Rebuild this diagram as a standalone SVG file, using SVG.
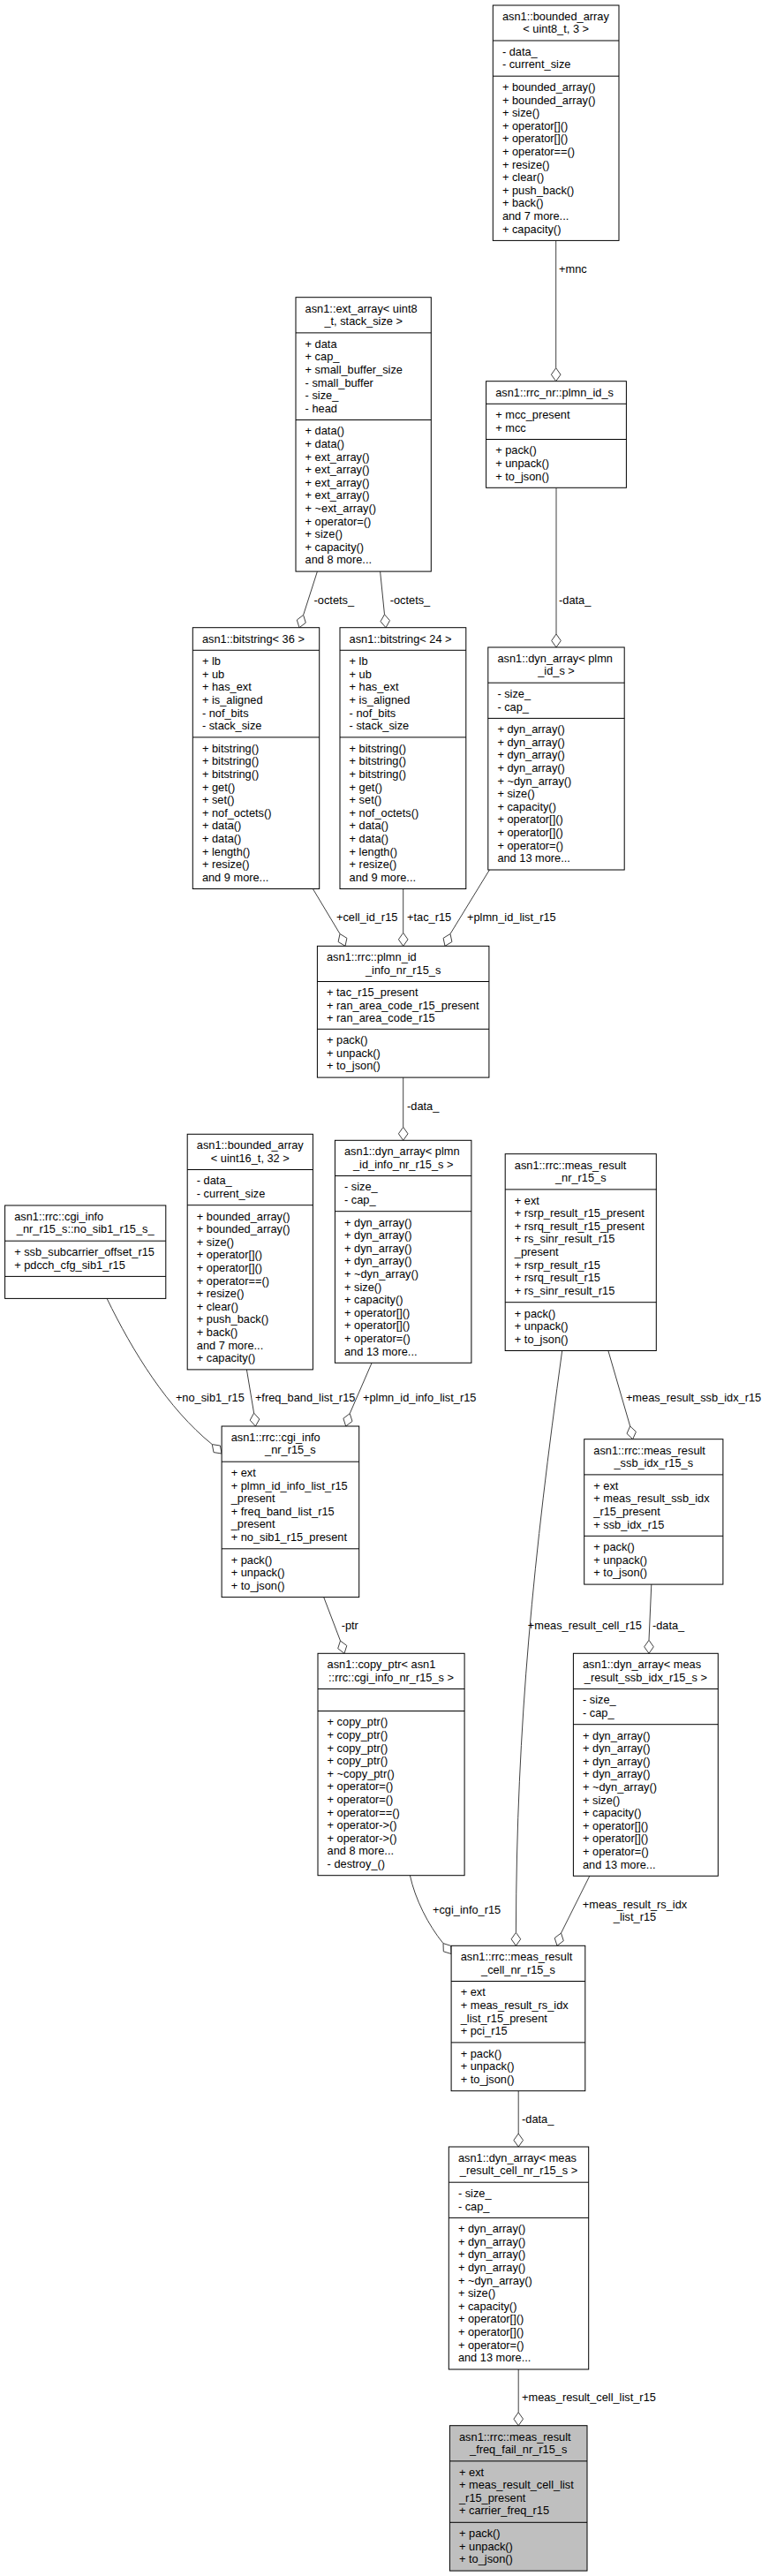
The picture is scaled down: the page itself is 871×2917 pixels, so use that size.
<svg xmlns="http://www.w3.org/2000/svg" width="871" height="2917" viewBox="0 0 871 2917">
<style>
rect.b{fill:#fff;stroke:#000;stroke-width:1}
rect.g{fill:#bfbfbf;stroke:#000;stroke-width:1}
line.s{stroke:#000;stroke-width:1}
text{font-family:"Liberation Sans",Arial,Helvetica,sans-serif;font-size:12.8px;fill:#000}
.c{text-anchor:middle}
.e{fill:none;stroke:#404040;stroke-width:1}
.d{fill:#fff;stroke:#404040;stroke-width:1}
</style>
<rect width="871" height="2917" fill="#fff"/>
<g id="connectors">
<path class="e" d="M629.7,272.4 L629.7,416.7"/><polygon class="d" points="629.7,416.7 635,424.2 629.7,431.7 624.4,424.2"/>
<path class="e" d="M630,552.3 L630,718"/><polygon class="d" points="630,718 635.3,725.5 630,733 624.7,725.5"/>
<path class="e" d="M359.4,647.1 L343.6,696.4"/><polygon class="d" points="343.6,696.4 346.3,705.2 339,710.7 336.3,702"/>
<path class="e" d="M430.6,647.1 L435.5,695.8"/><polygon class="d" points="435.5,695.8 441.5,702.7 437,710.7 431,703.7"/>
<path class="e" d="M354.4,1006.5 L385,1057.5"/><polygon class="d" points="385,1057.5 392.9,1062.3 391,1071.3 383.1,1066.5"/>
<path class="e" d="M456.7,1006.5 L456.7,1056.3"/><polygon class="d" points="456.7,1056.3 462,1063.8 456.7,1071.3 451.4,1063.8"/>
<path class="e" d="M554.4,985 L510,1057.5"/><polygon class="d" points="510,1057.5 511.9,1066.5 504,1071.3 502.1,1062.3"/>
<path class="e" d="M456.7,1220.1 L456.7,1276.3"/><polygon class="d" points="456.7,1276.3 462,1283.8 456.7,1291.3 451.4,1283.8"/>
<path class="e" d="M121.1,1470.4 C150,1530 190,1595 240.3,1635.6"/><polygon class="d" points="240.3,1635.6 249.4,1637 251.1,1646 242,1644.6"/>
<path class="e" d="M279.4,1550.9 L287.6,1600.1"/><polygon class="d" points="287.6,1600.1 293.8,1607 289.4,1615 283.2,1608.2"/>
<path class="e" d="M421.1,1543.3 L396.2,1600.7"/><polygon class="d" points="396.2,1600.7 399,1609.4 391.7,1615 388.9,1606.2"/>
<path class="e" d="M366.7,1808.6 L385.5,1858"/><polygon class="d" points="385.5,1858 392.8,1863.5 390,1872.3 382.7,1866.7"/>
<path class="e" d="M688.9,1529.5 L713.7,1615"/><polygon class="d" points="713.7,1615 720.4,1621.3 716.7,1629.7 710,1623.4"/>
<path class="e" d="M737.8,1794.1 L735,1857.3"/><polygon class="d" points="735,1857.3 740.3,1864.8 735,1872.3 729.7,1864.8"/>
<path class="e" d="M636.7,1529.5 C605,1760 585,1950 584.4,2188.3"/><polygon class="d" points="584.4,2188.3 589.7,2195.8 584.4,2203.3 579.1,2195.8"/>
<path class="e" d="M464.4,2123.7 C470,2150 485,2180 502,2200.6"/><polygon class="d" points="502,2200.6 510.7,2203.4 511.1,2212.5 502.3,2209.8"/>
<path class="e" d="M667.8,2124.3 L635.5,2189"/><polygon class="d" points="635.5,2189 638.3,2197.7 631,2203.3 628.2,2194.5"/>
<path class="e" d="M587.2,2367.7 L587.2,2416"/><polygon class="d" points="587.2,2416 592.5,2423.5 587.2,2431 581.9,2423.5"/>
<path class="e" d="M587.2,2683 L587.2,2731.7"/><polygon class="d" points="587.2,2731.7 592.5,2739.2 587.2,2746.7 581.9,2739.2"/>
<text x="633" y="308.5">+mnc</text>
<text x="633" y="683.5">-data_</text>
<text x="355.6" y="683.5">-octets_</text>
<text x="441.7" y="683.5">-octets_</text>
<text x="381" y="1043.2">+cell_id_r15</text>
<text x="461" y="1043.2">+tac_r15</text>
<text x="529" y="1043.2">+plmn_id_list_r15</text>
<text x="461" y="1256.8">-data_</text>
<text x="198.9" y="1586.8">+no_sib1_r15</text>
<text x="288.9" y="1586.8">+freq_band_list_r15</text>
<text x="411" y="1586.8">+plmn_id_info_list_r15</text>
<text x="708.9" y="1586.8">+meas_result_ssb_idx_r15</text>
<text x="386.7" y="1844.8">-ptr</text>
<text x="597.8" y="1844.8">+meas_result_cell_r15</text>
<text x="738.9" y="1844.8">-data_</text>
<text x="490" y="2167.2">+cgi_info_r15</text>
<text x="719" y="2160.5" class="c">+meas_result_rs_idx</text>
<text x="719" y="2175.2" class="c">_list_r15</text>
<text x="591" y="2403.5">-data_</text>
<text x="591" y="2719.2">+meas_result_cell_list_r15</text>
</g>

<g id="bounded_array_uint8_3">
<rect class="b" x="558.3" y="6" width="142.7" height="266.4"/>
<line class="s" x1="558.3" y1="46" x2="701" y2="46"/><line class="s" x1="558.3" y1="86.2" x2="701" y2="86.2"/>
<text x="568.9" y="22.8">asn1::bounded_array</text>
<text x="629.7" y="37.4" class="c">&lt; uint8_t, 3 &gt;</text>
<text x="568.9" y="62.8">- data_<tspan x="568.9" dy="14.6">- current_size</tspan></text>
<text x="568.9" y="103">+ bounded_array()<tspan x="568.9" dy="14.6">+ bounded_array()</tspan><tspan x="568.9" dy="14.6">+ size()</tspan><tspan x="568.9" dy="14.6">+ operator[]()</tspan><tspan x="568.9" dy="14.6">+ operator[]()</tspan><tspan x="568.9" dy="14.6">+ operator==()</tspan><tspan x="568.9" dy="14.6">+ resize()</tspan><tspan x="568.9" dy="14.6">+ clear()</tspan><tspan x="568.9" dy="14.6">+ push_back()</tspan><tspan x="568.9" dy="14.6">+ back()</tspan><tspan x="568.9" dy="14.6">and 7 more...</tspan><tspan x="568.9" dy="14.6">+ capacity()</tspan></text>
</g>

<g id="ext_array">
<rect class="b" x="335" y="336.7" width="153.3" height="310.4"/>
<line class="s" x1="335" y1="376.9" x2="488.3" y2="376.9"/><line class="s" x1="335" y1="475.5" x2="488.3" y2="475.5"/>
<text x="345.6" y="353.5">asn1::ext_array&lt; uint8</text>
<text x="411.7" y="368.1" class="c">_t, stack_size &gt;</text>
<text x="345.6" y="393.7">+ data<tspan x="345.6" dy="14.6">+ cap_</tspan><tspan x="345.6" dy="14.6">+ small_buffer_size</tspan><tspan x="345.6" dy="14.6">- small_buffer</tspan><tspan x="345.6" dy="14.6">- size_</tspan><tspan x="345.6" dy="14.6">- head</tspan></text>
<text x="345.6" y="492.3">+ data()<tspan x="345.6" dy="14.6">+ data()</tspan><tspan x="345.6" dy="14.6">+ ext_array()</tspan><tspan x="345.6" dy="14.6">+ ext_array()</tspan><tspan x="345.6" dy="14.6">+ ext_array()</tspan><tspan x="345.6" dy="14.6">+ ext_array()</tspan><tspan x="345.6" dy="14.6">+ ~ext_array()</tspan><tspan x="345.6" dy="14.6">+ operator=()</tspan><tspan x="345.6" dy="14.6">+ size()</tspan><tspan x="345.6" dy="14.6">+ capacity()</tspan><tspan x="345.6" dy="14.6">and 8 more...</tspan></text>
</g>

<g id="plmn_id_s">
<rect class="b" x="550.6" y="431.7" width="158.8" height="120.6"/>
<line class="s" x1="550.6" y1="457.3" x2="709.4" y2="457.3"/><line class="s" x1="550.6" y1="497.5" x2="709.4" y2="497.5"/>
<text x="561.2" y="448.5">asn1::rrc_nr::plmn_id_s</text>
<text x="561.2" y="474.1">+ mcc_present<tspan x="561.2" dy="14.6">+ mcc</tspan></text>
<text x="561.2" y="514.3">+ pack()<tspan x="561.2" dy="14.6">+ unpack()</tspan><tspan x="561.2" dy="14.6">+ to_json()</tspan></text>
</g>

<g id="bitstring_36">
<rect class="b" x="218.3" y="710.7" width="143.4" height="295.8"/>
<line class="s" x1="218.3" y1="736.3" x2="361.7" y2="736.3"/><line class="s" x1="218.3" y1="834.9" x2="361.7" y2="834.9"/>
<text x="228.9" y="727.5">asn1::bitstring&lt; 36 &gt;</text>
<text x="228.9" y="753.1">+ lb<tspan x="228.9" dy="14.6">+ ub</tspan><tspan x="228.9" dy="14.6">+ has_ext</tspan><tspan x="228.9" dy="14.6">+ is_aligned</tspan><tspan x="228.9" dy="14.6">- nof_bits</tspan><tspan x="228.9" dy="14.6">- stack_size</tspan></text>
<text x="228.9" y="851.7">+ bitstring()<tspan x="228.9" dy="14.6">+ bitstring()</tspan><tspan x="228.9" dy="14.6">+ bitstring()</tspan><tspan x="228.9" dy="14.6">+ get()</tspan><tspan x="228.9" dy="14.6">+ set()</tspan><tspan x="228.9" dy="14.6">+ nof_octets()</tspan><tspan x="228.9" dy="14.6">+ data()</tspan><tspan x="228.9" dy="14.6">+ data()</tspan><tspan x="228.9" dy="14.6">+ length()</tspan><tspan x="228.9" dy="14.6">+ resize()</tspan><tspan x="228.9" dy="14.6">and 9 more...</tspan></text>
</g>

<g id="bitstring_24">
<rect class="b" x="385" y="710.7" width="142.8" height="295.8"/>
<line class="s" x1="385" y1="736.3" x2="527.8" y2="736.3"/><line class="s" x1="385" y1="834.9" x2="527.8" y2="834.9"/>
<text x="395.6" y="727.5">asn1::bitstring&lt; 24 &gt;</text>
<text x="395.6" y="753.1">+ lb<tspan x="395.6" dy="14.6">+ ub</tspan><tspan x="395.6" dy="14.6">+ has_ext</tspan><tspan x="395.6" dy="14.6">+ is_aligned</tspan><tspan x="395.6" dy="14.6">- nof_bits</tspan><tspan x="395.6" dy="14.6">- stack_size</tspan></text>
<text x="395.6" y="851.7">+ bitstring()<tspan x="395.6" dy="14.6">+ bitstring()</tspan><tspan x="395.6" dy="14.6">+ bitstring()</tspan><tspan x="395.6" dy="14.6">+ get()</tspan><tspan x="395.6" dy="14.6">+ set()</tspan><tspan x="395.6" dy="14.6">+ nof_octets()</tspan><tspan x="395.6" dy="14.6">+ data()</tspan><tspan x="395.6" dy="14.6">+ data()</tspan><tspan x="395.6" dy="14.6">+ length()</tspan><tspan x="395.6" dy="14.6">+ resize()</tspan><tspan x="395.6" dy="14.6">and 9 more...</tspan></text>
</g>

<g id="dyn_array_plmn_id_s">
<rect class="b" x="552.8" y="733" width="154.4" height="252"/>
<line class="s" x1="552.8" y1="773.2" x2="707.2" y2="773.2"/><line class="s" x1="552.8" y1="813.4" x2="707.2" y2="813.4"/>
<text x="563.4" y="749.8">asn1::dyn_array&lt; plmn</text>
<text x="630" y="764.4" class="c">_id_s &gt;</text>
<text x="563.4" y="790">- size_<tspan x="563.4" dy="14.6">- cap_</tspan></text>
<text x="563.4" y="830.2">+ dyn_array()<tspan x="563.4" dy="14.6">+ dyn_array()</tspan><tspan x="563.4" dy="14.6">+ dyn_array()</tspan><tspan x="563.4" dy="14.6">+ dyn_array()</tspan><tspan x="563.4" dy="14.6">+ ~dyn_array()</tspan><tspan x="563.4" dy="14.6">+ size()</tspan><tspan x="563.4" dy="14.6">+ capacity()</tspan><tspan x="563.4" dy="14.6">+ operator[]()</tspan><tspan x="563.4" dy="14.6">+ operator[]()</tspan><tspan x="563.4" dy="14.6">+ operator=()</tspan><tspan x="563.4" dy="14.6">and 13 more...</tspan></text>
</g>

<g id="plmn_id_info_nr_r15_s">
<rect class="b" x="359.4" y="1071.3" width="194.5" height="148.8"/>
<line class="s" x1="359.4" y1="1111.5" x2="553.9" y2="1111.5"/><line class="s" x1="359.4" y1="1165.3" x2="553.9" y2="1165.3"/>
<text x="370" y="1088.1">asn1::rrc::plmn_id</text>
<text x="456.7" y="1102.7" class="c">_info_nr_r15_s</text>
<text x="370" y="1128.1">+ tac_r15_present<tspan x="370" dy="14.6">+ ran_area_code_r15_present</tspan><tspan x="370" dy="14.6">+ ran_area_code_r15</tspan></text>
<text x="370" y="1182.1">+ pack()<tspan x="370" dy="14.6">+ unpack()</tspan><tspan x="370" dy="14.6">+ to_json()</tspan></text>
</g>

<g id="bounded_array_uint16_32">
<rect class="b" x="212.2" y="1284.3" width="142.2" height="266.6"/>
<line class="s" x1="212.2" y1="1324.5" x2="354.4" y2="1324.5"/><line class="s" x1="212.2" y1="1364.7" x2="354.4" y2="1364.7"/>
<text x="222.8" y="1301.1">asn1::bounded_array</text>
<text x="283.3" y="1315.7" class="c">&lt; uint16_t, 32 &gt;</text>
<text x="222.8" y="1341.3">- data_<tspan x="222.8" dy="14.6">- current_size</tspan></text>
<text x="222.8" y="1381.5">+ bounded_array()<tspan x="222.8" dy="14.6">+ bounded_array()</tspan><tspan x="222.8" dy="14.6">+ size()</tspan><tspan x="222.8" dy="14.6">+ operator[]()</tspan><tspan x="222.8" dy="14.6">+ operator[]()</tspan><tspan x="222.8" dy="14.6">+ operator==()</tspan><tspan x="222.8" dy="14.6">+ resize()</tspan><tspan x="222.8" dy="14.6">+ clear()</tspan><tspan x="222.8" dy="14.6">+ push_back()</tspan><tspan x="222.8" dy="14.6">+ back()</tspan><tspan x="222.8" dy="14.6">and 7 more...</tspan><tspan x="222.8" dy="14.6">+ capacity()</tspan></text>
</g>

<g id="dyn_array_plmn_id_info_nr_r15_s">
<rect class="b" x="379.4" y="1291.3" width="154.5" height="252"/>
<line class="s" x1="379.4" y1="1331.5" x2="533.9" y2="1331.5"/><line class="s" x1="379.4" y1="1371.7" x2="533.9" y2="1371.7"/>
<text x="390" y="1308.1">asn1::dyn_array&lt; plmn</text>
<text x="456.7" y="1322.7" class="c">_id_info_nr_r15_s &gt;</text>
<text x="390" y="1348.3">- size_<tspan x="390" dy="14.6">- cap_</tspan></text>
<text x="390" y="1388.5">+ dyn_array()<tspan x="390" dy="14.6">+ dyn_array()</tspan><tspan x="390" dy="14.6">+ dyn_array()</tspan><tspan x="390" dy="14.6">+ dyn_array()</tspan><tspan x="390" dy="14.6">+ ~dyn_array()</tspan><tspan x="390" dy="14.6">+ size()</tspan><tspan x="390" dy="14.6">+ capacity()</tspan><tspan x="390" dy="14.6">+ operator[]()</tspan><tspan x="390" dy="14.6">+ operator[]()</tspan><tspan x="390" dy="14.6">+ operator=()</tspan><tspan x="390" dy="14.6">and 13 more...</tspan></text>
</g>

<g id="cgi_info_no_sib1_r15_s">
<rect class="b" x="5.6" y="1365" width="182.2" height="105.4"/>
<line class="s" x1="5.6" y1="1405.2" x2="187.8" y2="1405.2"/><line class="s" x1="5.6" y1="1445.4" x2="187.8" y2="1445.4"/>
<text x="16.2" y="1381.8">asn1::rrc::cgi_info</text>
<text x="96.7" y="1396.4" class="c">_nr_r15_s::no_sib1_r15_s_</text>
<text x="16.2" y="1422">+ ssb_subcarrier_offset_r15<tspan x="16.2" dy="14.6">+ pdcch_cfg_sib1_r15</tspan></text>
</g>

<g id="meas_result_nr_r15_s">
<rect class="b" x="572.2" y="1306.7" width="171.1" height="222.8"/>
<line class="s" x1="572.2" y1="1346.9" x2="743.3" y2="1346.9"/><line class="s" x1="572.2" y1="1474.7" x2="743.3" y2="1474.7"/>
<text x="582.8" y="1323.5">asn1::rrc::meas_result</text>
<text x="657.8" y="1338.1" class="c">_nr_r15_s</text>
<text x="582.8" y="1363.5">+ ext<tspan x="582.8" dy="14.6">+ rsrp_result_r15_present</tspan><tspan x="582.8" dy="14.6">+ rsrq_result_r15_present</tspan><tspan x="582.8" dy="14.6">+ rs_sinr_result_r15</tspan><tspan x="582.8" dy="14.6">_present</tspan><tspan x="582.8" dy="14.6">+ rsrp_result_r15</tspan><tspan x="582.8" dy="14.6">+ rsrq_result_r15</tspan><tspan x="582.8" dy="14.6">+ rs_sinr_result_r15</tspan></text>
<text x="582.8" y="1491.5">+ pack()<tspan x="582.8" dy="14.6">+ unpack()</tspan><tspan x="582.8" dy="14.6">+ to_json()</tspan></text>
</g>

<g id="cgi_info_nr_r15_s">
<rect class="b" x="251.1" y="1615" width="155.6" height="193.6"/>
<line class="s" x1="251.1" y1="1655.2" x2="406.7" y2="1655.2"/><line class="s" x1="251.1" y1="1753.8" x2="406.7" y2="1753.8"/>
<text x="261.7" y="1631.8">asn1::rrc::cgi_info</text>
<text x="328.9" y="1646.4" class="c">_nr_r15_s</text>
<text x="261.7" y="1672">+ ext<tspan x="261.7" dy="14.6">+ plmn_id_info_list_r15</tspan><tspan x="261.7" dy="14.6">_present</tspan><tspan x="261.7" dy="14.6">+ freq_band_list_r15</tspan><tspan x="261.7" dy="14.6">_present</tspan><tspan x="261.7" dy="14.6">+ no_sib1_r15_present</tspan></text>
<text x="261.7" y="1770.6">+ pack()<tspan x="261.7" dy="14.6">+ unpack()</tspan><tspan x="261.7" dy="14.6">+ to_json()</tspan></text>
</g>

<g id="meas_result_ssb_idx_r15_s">
<rect class="b" x="661.7" y="1629.7" width="157.2" height="164.4"/>
<line class="s" x1="661.7" y1="1669.9" x2="818.9" y2="1669.9"/><line class="s" x1="661.7" y1="1739.3" x2="818.9" y2="1739.3"/>
<text x="672.3" y="1646.5">asn1::rrc::meas_result</text>
<text x="740.3" y="1661.1" class="c">_ssb_idx_r15_s</text>
<text x="672.3" y="1686.7">+ ext<tspan x="672.3" dy="14.6">+ meas_result_ssb_idx</tspan><tspan x="672.3" dy="14.6">_r15_present</tspan><tspan x="672.3" dy="14.6">+ ssb_idx_r15</tspan></text>
<text x="672.3" y="1756.1">+ pack()<tspan x="672.3" dy="14.6">+ unpack()</tspan><tspan x="672.3" dy="14.6">+ to_json()</tspan></text>
</g>

<g id="copy_ptr_cgi_info_nr_r15_s">
<rect class="b" x="360" y="1872.3" width="166.1" height="251.4"/>
<line class="s" x1="360" y1="1912.5" x2="526.1" y2="1912.5"/><line class="s" x1="360" y1="1937.5" x2="526.1" y2="1937.5"/>
<text x="370.6" y="1889.1">asn1::copy_ptr&lt; asn1</text>
<text x="443" y="1903.7" class="c">::rrc::cgi_info_nr_r15_s &gt;</text>
<text x="370.6" y="1954.3">+ copy_ptr()<tspan x="370.6" dy="14.6">+ copy_ptr()</tspan><tspan x="370.6" dy="14.6">+ copy_ptr()</tspan><tspan x="370.6" dy="14.6">+ copy_ptr()</tspan><tspan x="370.6" dy="14.6">+ ~copy_ptr()</tspan><tspan x="370.6" dy="14.6">+ operator=()</tspan><tspan x="370.6" dy="14.6">+ operator=()</tspan><tspan x="370.6" dy="14.6">+ operator==()</tspan><tspan x="370.6" dy="14.6">+ operator-&gt;()</tspan><tspan x="370.6" dy="14.6">+ operator-&gt;()</tspan><tspan x="370.6" dy="14.6">and 8 more...</tspan><tspan x="370.6" dy="14.6">- destroy_()</tspan></text>
</g>

<g id="dyn_array_meas_result_ssb_idx_r15_s">
<rect class="b" x="649.4" y="1872.3" width="163.9" height="252"/>
<line class="s" x1="649.4" y1="1912.5" x2="813.3" y2="1912.5"/><line class="s" x1="649.4" y1="1952.7" x2="813.3" y2="1952.7"/>
<text x="660" y="1889.1">asn1::dyn_array&lt; meas</text>
<text x="731.4" y="1903.7" class="c">_result_ssb_idx_r15_s &gt;</text>
<text x="660" y="1929.3">- size_<tspan x="660" dy="14.6">- cap_</tspan></text>
<text x="660" y="1969.5">+ dyn_array()<tspan x="660" dy="14.6">+ dyn_array()</tspan><tspan x="660" dy="14.6">+ dyn_array()</tspan><tspan x="660" dy="14.6">+ dyn_array()</tspan><tspan x="660" dy="14.6">+ ~dyn_array()</tspan><tspan x="660" dy="14.6">+ size()</tspan><tspan x="660" dy="14.6">+ capacity()</tspan><tspan x="660" dy="14.6">+ operator[]()</tspan><tspan x="660" dy="14.6">+ operator[]()</tspan><tspan x="660" dy="14.6">+ operator=()</tspan><tspan x="660" dy="14.6">and 13 more...</tspan></text>
</g>

<g id="meas_result_cell_nr_r15_s">
<rect class="b" x="511.1" y="2203.3" width="151.7" height="164.4"/>
<line class="s" x1="511.1" y1="2243.5" x2="662.8" y2="2243.5"/><line class="s" x1="511.1" y1="2312.9" x2="662.8" y2="2312.9"/>
<text x="521.7" y="2220.1">asn1::rrc::meas_result</text>
<text x="587" y="2234.7" class="c">_cell_nr_r15_s</text>
<text x="521.7" y="2260.3">+ ext<tspan x="521.7" dy="14.6">+ meas_result_rs_idx</tspan><tspan x="521.7" dy="14.6">_list_r15_present</tspan><tspan x="521.7" dy="14.6">+ pci_r15</tspan></text>
<text x="521.7" y="2329.7">+ pack()<tspan x="521.7" dy="14.6">+ unpack()</tspan><tspan x="521.7" dy="14.6">+ to_json()</tspan></text>
</g>

<g id="dyn_array_meas_result_cell_nr_r15_s">
<rect class="b" x="508.3" y="2431" width="158.4" height="252"/>
<line class="s" x1="508.3" y1="2471.2" x2="666.7" y2="2471.2"/><line class="s" x1="508.3" y1="2511.4" x2="666.7" y2="2511.4"/>
<text x="518.9" y="2447.8">asn1::dyn_array&lt; meas</text>
<text x="587.5" y="2462.4" class="c">_result_cell_nr_r15_s &gt;</text>
<text x="518.9" y="2488">- size_<tspan x="518.9" dy="14.6">- cap_</tspan></text>
<text x="518.9" y="2528.2">+ dyn_array()<tspan x="518.9" dy="14.6">+ dyn_array()</tspan><tspan x="518.9" dy="14.6">+ dyn_array()</tspan><tspan x="518.9" dy="14.6">+ dyn_array()</tspan><tspan x="518.9" dy="14.6">+ ~dyn_array()</tspan><tspan x="518.9" dy="14.6">+ size()</tspan><tspan x="518.9" dy="14.6">+ capacity()</tspan><tspan x="518.9" dy="14.6">+ operator[]()</tspan><tspan x="518.9" dy="14.6">+ operator[]()</tspan><tspan x="518.9" dy="14.6">+ operator=()</tspan><tspan x="518.9" dy="14.6">and 13 more...</tspan></text>
</g>

<g id="meas_result_freq_fail_nr_r15_s">
<rect class="g" x="509.4" y="2746.7" width="155.6" height="164.4"/>
<line class="s" x1="509.4" y1="2786.9" x2="665" y2="2786.9"/><line class="s" x1="509.4" y1="2856.3" x2="665" y2="2856.3"/>
<text x="520" y="2763.5">asn1::rrc::meas_result</text>
<text x="587.2" y="2778.1" class="c">_freq_fail_nr_r15_s</text>
<text x="520" y="2803.5">+ ext<tspan x="520" dy="14.6">+ meas_result_cell_list</tspan><tspan x="520" dy="14.6">_r15_present</tspan><tspan x="520" dy="14.6">+ carrier_freq_r15</tspan></text>
<text x="520" y="2873.1">+ pack()<tspan x="520" dy="14.6">+ unpack()</tspan><tspan x="520" dy="14.6">+ to_json()</tspan></text>
</g>
</svg>
